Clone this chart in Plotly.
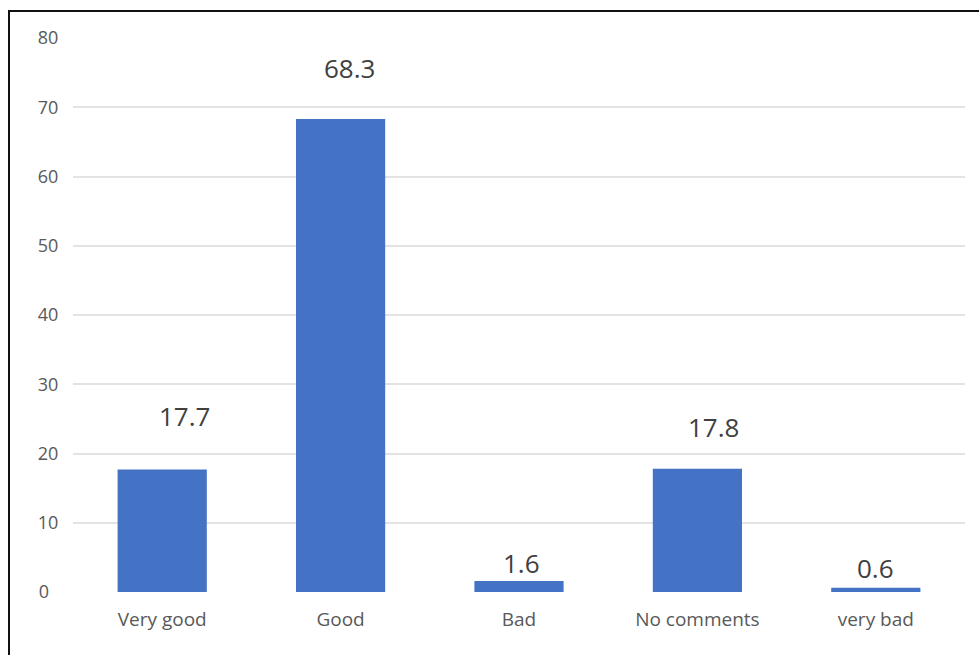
import plotly.graph_objects as go

categories = ["Very good", "Good", "Bad", "No comments", "very bad"]
values = [17.7, 68.3, 1.6, 17.8, 0.6]
y_ticks = [0, 10, 20, 30, 40, 50, 60, 70, 80]

# hand-placed label offsets (pixels) relative to each bar top
label_dx = [22, 9, 2, 16, 0]
label_dy = [53, 51, 18, 42, 20]

W, H = 979, 655
ML, MR, MT, MB = 73, 14, 38, 63
pw, ph = W - ML - MR, H - MT - MB

BAR = "#4472C4"
TXT = "#595959"
FONT = "Open Sans"

fig = go.Figure(go.Bar(
    x=categories, y=values, marker=dict(color=BAR, line=dict(width=0)),
    hoverinfo="x+y",
))

for c, v, dx, dy in zip(categories, values, label_dx, label_dy):
    fig.add_annotation(
        x=c, y=v, text=f"{v:g}", showarrow=False,
        xanchor="center", yanchor="middle", xshift=dx, yshift=dy,
        font=dict(family=FONT, size=26, color="#404040"),
    )

# outer frame of the chart area
fig.add_shape(
    type="rect", xref="paper", yref="paper",
    x0=(9 - ML) / pw, x1=(W + 20 - ML) / pw,
    y0=-(MB + 20) / ph, y1=1 + (MT - 11) / ph,
    line=dict(color="#111111", width=2), fillcolor="rgba(0,0,0,0)", layer="above",
)

nb = "\u00a0"
fig.update_layout(
    width=W, height=H,
    margin=dict(l=ML, r=MR, t=MT, b=MB),
    paper_bgcolor="white", plot_bgcolor="white",
    bargap=0.5, showlegend=False,
    xaxis=dict(
        showgrid=False, showline=False, zeroline=False,
        ticks="outside", ticklen=10, tickcolor="rgba(0,0,0,0)",
        tickfont=dict(family=FONT, size=19, color=TXT),
    ),
    yaxis=dict(
        range=[0, 80], tickvals=y_ticks,
        ticktext=[f"{t}" + (nb * 2 if t < 10 else "") for t in y_ticks],
        showgrid=True, gridcolor="#E3E3E3", gridwidth=2,
        zeroline=True, zerolinecolor="white", zerolinewidth=2,
        showline=False,
        ticks="outside", ticklen=10, tickcolor="rgba(0,0,0,0)",
        tickfont=dict(family=FONT, size=18, color=TXT),
    ),
)

fig.write_html("out.html")
